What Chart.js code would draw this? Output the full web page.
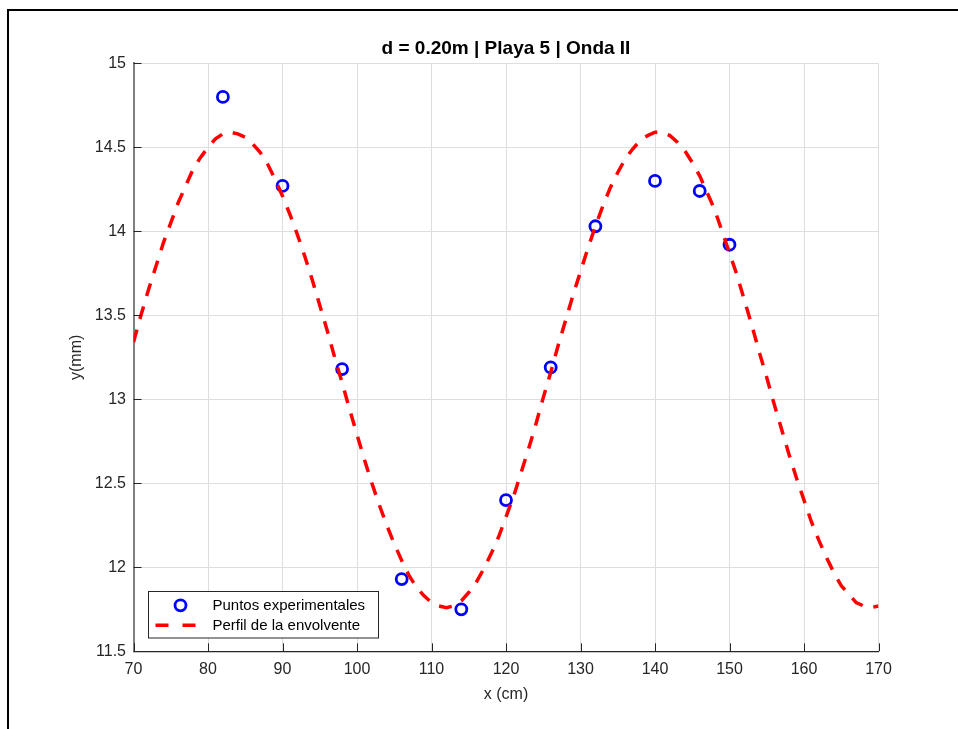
<!DOCTYPE html>
<html>
<head>
<meta charset="utf-8">
<script src="https://cdn.jsdelivr.net/npm/chart.js@4/dist/chart.umd.min.js"></script>
<style>
  html, body { margin: 0; padding: 0; background: #ffffff; overflow: hidden; }
  #wrap { position: relative; width: 958px; height: 729px; }
  #frame { position: absolute; left: 7px; top: 9px; width: 1000px; height: 800px; border-left: 2px solid #000; border-top: 2px solid #000; box-sizing: border-box; }
  #c { position: absolute; left: 0; top: 0; }
</style>
</head>
<body>
<div id="wrap">
  <div id="frame"></div>
  <canvas id="c" width="958" height="729"></canvas>
</div>
<script>
// ---- Data ----
const titleText = 'd = 0.20m | Playa 5 | Onda II';
const xLabel = 'x (cm)';
const yLabel = 'y(mm)';
const legendLabels = ['Puntos experimentales', 'Perfil de la envolvente'];

const xTicks = [70, 80, 90, 100, 110, 120, 130, 140, 150, 160, 170];
const yTicks = [11.5, 12, 12.5, 13, 13.5, 14, 14.5, 15];
const yTickLabels = ['11.5', '12', '12.5', '13', '13.5', '14', '14.5', '15'];

// experimental points
const xPts = [82, 90, 98, 106, 114, 120, 126, 132, 140, 146, 150];
const yPts = [14.80, 14.27, 13.18, 11.93, 11.75, 12.40, 13.19, 14.03, 14.30, 14.24, 13.92];

// envelope profile, sampled every 1 cm
const xEnv = [70,71,72,73,74,75,76,77,78,79,80,81,82,83,84,85,86,87,88,89,90,91,92,93,94,95,96,97,98,99,
  100,101,102,103,104,105,106,107,108,109,110,111,112,113,114,115,116,117,118,119,120,121,122,123,124,125,126,127,128,129,
  130,131,132,133,134,135,136,137,138,139,140,141,142,143,144,145,146,147,148,149,150,151,152,153,154,155,156,157,158,159,
  160,161,162,163,164,165,166,167,168,169,170];
const yEnv = [13.34,13.50,13.65,13.79,13.93,14.05,14.17,14.27,14.37,14.44,14.50,14.55,14.58,14.59,14.58,14.56,14.52,14.47,14.40,14.31,
  14.21,14.10,13.98,13.85,13.71,13.56,13.41,13.25,13.10,12.94,12.79,12.64,12.50,12.37,12.25,12.14,12.04,11.95,11.88,11.83,
  11.79,11.77,11.76,11.77,11.80,11.85,11.91,11.99,12.08,12.18,12.30,12.42,12.56,12.70,12.85,13.01,13.16,13.32,13.47,13.62,
  13.76,13.90,14.03,14.15,14.26,14.35,14.43,14.49,14.54,14.57,14.59,14.59,14.57,14.53,14.48,14.41,14.33,14.23,14.13,14.00,
  13.87,13.74,13.59,13.44,13.28,13.13,12.97,12.82,12.67,12.53,12.40,12.27,12.16,12.06,11.97,11.89,11.84,11.79,11.77,11.76,11.77];

// ---- Styling ----
const FONT = '"Liberation Sans", Arial, Helvetica, sans-serif';
const TXT = '#262626';
const GRID = '#dedede';
const PT_COLOR = '#0000ff';
const LINE_COLOR = '#ff0000';
const DASH = [13, 11];

const ptsData = xPts.map((x, i) => ({ x: x, y: yPts[i] }));
const envData = xEnv.map((x, i) => ({ x: x, y: yEnv[i] }));

// inward tick marks + legend inside the axes
const matlabPlugin = {
  id: 'matlabExtras',
  afterDraw(chart) {
    const ctx = chart.ctx;
    const xs = chart.scales.x, ys = chart.scales.y;
    const a = chart.chartArea;
    ctx.save();
    // inward ticks
    ctx.strokeStyle = TXT;
    ctx.lineWidth = 1;
    ctx.beginPath();
    xTicks.forEach(v => {
      const px = Math.round(xs.getPixelForValue(v)) + 0.5;
      ctx.moveTo(px, a.bottom);
      ctx.lineTo(px, a.bottom - 8);
    });
    yTicks.forEach(v => {
      const py = Math.round(ys.getPixelForValue(v)) + 0.5;
      ctx.moveTo(a.left, py);
      ctx.lineTo(a.left + 8, py);
    });
    ctx.stroke();

    // legend
    const lx = a.left + 14, ly = a.bottom - 60;
    const lw = 230, lh = 46.5;
    ctx.fillStyle = '#ffffff';
    ctx.fillRect(lx, ly, lw, lh);
    ctx.strokeStyle = TXT;
    ctx.lineWidth = 1;
    ctx.strokeRect(Math.round(lx) + 0.5, Math.round(ly) + 0.5, lw, lh);

    const r1 = ly + 14, r2 = ly + 34;
    // marker sample
    ctx.beginPath();
    ctx.strokeStyle = PT_COLOR;
    ctx.lineWidth = 2.8;
    ctx.arc(lx + 33, r1, 5.5, 0, Math.PI * 2);
    ctx.stroke();
    // line sample
    ctx.beginPath();
    ctx.strokeStyle = LINE_COLOR;
    ctx.lineWidth = 3.5;
    ctx.setLineDash([13, 14]);
    ctx.moveTo(lx + 8, r2);
    ctx.lineTo(lx + 49, r2);
    ctx.stroke();
    ctx.setLineDash([]);

    ctx.fillStyle = '#000000';
    ctx.font = '15px ' + FONT;
    ctx.textAlign = 'left';
    ctx.textBaseline = 'middle';
    ctx.fillText(legendLabels[0], lx + 65, r1 + 0.5);
    ctx.fillText(legendLabels[1], lx + 65, r2 + 0.5);
    ctx.restore();
  }
};

new Chart(document.getElementById('c'), {
  type: 'scatter',
  data: {
    datasets: [
      {
        label: legendLabels[1],
        data: envData,
        showLine: true,
        borderColor: LINE_COLOR,
        borderWidth: 3.5,
        borderDash: DASH,
        borderCapStyle: 'butt',
        pointRadius: 0,
        pointHoverRadius: 0,
        tension: 0,
        fill: false,
        order: 0
      },
      {
        label: legendLabels[0],
        data: ptsData,
        showLine: false,
        pointRadius: 5.5,
        pointHoverRadius: 5.5,
        pointBorderWidth: 2.8,
        pointBorderColor: PT_COLOR,
        pointBackgroundColor: 'rgba(0,0,0,0)',
        order: 1
      }
    ]
  },
  options: {
    responsive: false,
    animation: false,
    events: [],
    layout: { padding: { left: 0, right: 79.5, top: 0, bottom: 0 } },
    plugins: {
      legend: { display: false },
      tooltip: { enabled: false },
      title: {
        display: true,
        fullSize: false,
        text: titleText,
        color: '#000000',
        font: { family: FONT, size: 19, weight: 'bold' },
        padding: { top: 37.6, bottom: 2.9 }
      }
    },
    scales: {
      x: {
        type: 'linear',
        min: 70, max: 170,
        afterBuildTicks: s => { s.ticks = xTicks.map(v => ({ value: v })); },
        afterFit: s => { s.height = 77.7; },
        ticks: { color: TXT, font: { family: FONT, size: 16 }, padding: 9, maxRotation: 0,
                 callback: v => String(v) },
        grid: { color: GRID, lineWidth: 1, drawTicks: false },
        border: { display: true, color: TXT, width: 1.3 },
        title: { display: true, text: xLabel, color: TXT, font: { family: FONT, size: 16 }, padding: { top: 24.4, bottom: 24.4 } }
      },
      y: {
        type: 'linear',
        min: 11.5, max: 15,
        afterBuildTicks: s => { s.ticks = yTicks.map(v => ({ value: v })); },
        afterFit: s => { s.width = 133.5; },
        ticks: { color: TXT, font: { family: FONT, size: 16 }, padding: 7.5,
                 callback: (v, i) => yTickLabels[yTicks.indexOf(v)] ?? String(v) },
        grid: { color: GRID, lineWidth: 1, drawTicks: false },
        border: { display: true, color: '#808080', width: 2 },
        title: { display: true, text: yLabel, color: TXT, font: { family: FONT, size: 16 }, padding: { top: 67, bottom: 0 } }
      }
    }
  },
  plugins: [matlabPlugin]
});
</script>
</body>
</html>
